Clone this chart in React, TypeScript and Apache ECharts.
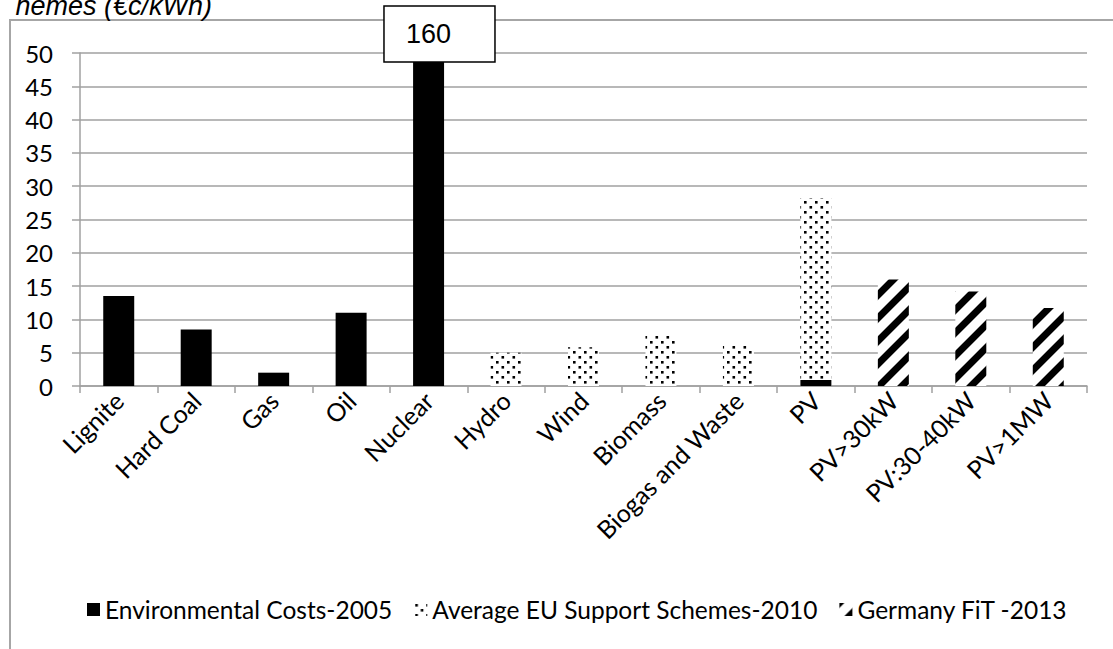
import React, { useEffect, useRef } from "react";
import * as echarts from "echarts";

const categories = [
  "Lignite",
  "Hard Coal",
  "Gas",
  "Oil",
  "Nuclear",
  "Hydro",
  "Wind",
  "Biomass",
  "Biogas and Waste",
  "PV",
  "PV>30kW",
  "PV:30-40kW",
  "PV>1MW",
];
const envCosts = [13.5, 8.5, 2, 11, 160, null, null, null, null, 0.9, null, null, null];
const euSupport = [null, null, null, null, null, 5.0, 5.8, 7.8, 6.3, 28.2, null, null, null];
const germanyFit = [null, null, null, null, null, null, null, null, null, null, 16.0, 14.2, 11.7];
const seriesNames = [
  "Environmental Costs-2005",
  "Average EU Support Schemes-2010",
  "Germany FiT -2013",
];
const yMin = 0;
const yMax = 50;
const yInterval = 5;
const titleText = "hemes (€c/kWh)";
const clippedIndex = 4;

const FONT = "Lato";

function dotPattern() {
  const s = 4;
  const w = 11;
  const h = 10;
  const c = document.createElement("canvas");
  c.width = w * s;
  c.height = h * s;
  const g = c.getContext("2d")!;
  g.fillStyle = "#fff";
  g.fillRect(0, 0, c.width, c.height);
  g.fillStyle = "#000";
  g.fillRect(1 * s, 1 * s, 2.6 * s, 2.6 * s);
  g.fillRect(6.5 * s, 6 * s, 2.6 * s, 2.6 * s);
  return { image: c.toDataURL(), repeat: "repeat", imageWidth: w, imageHeight: h };
}

function hatchPattern() {
  const s = 4;
  const T = 23;
  const c = document.createElement("canvas");
  c.width = T * s;
  c.height = T * s;
  const g = c.getContext("2d")!;
  g.fillStyle = "#fff";
  g.fillRect(0, 0, c.width, c.height);
  g.strokeStyle = "#000";
  g.lineWidth = 7 * s;
  for (let k = 0; k <= 2; k++) {
    g.beginPath();
    g.moveTo((k * T + T) * s, -T * s);
    g.lineTo((k * T - 2 * T) * s, 2 * T * s);
    g.stroke();
  }
  return { image: c.toDataURL(), repeat: "repeat", imageWidth: T, imageHeight: T };
}

export default function App() {
  const ref = useRef<HTMLDivElement>(null);
  useEffect(() => {
    if (!ref.current) return;
    const chart = echarts.init(ref.current, null, { renderer: "svg" });
    const gridColor = "#a0a0a0";
    const option: any = {
      animation: false,
      backgroundColor: "#fff",
      grid: { left: 80, right: 26, top: 53, bottom: 263, containLabel: false },
      legend: {
        data: seriesNames,
        left: 82,
        top: 592,
        icon: "rect",
        itemWidth: 13,
        itemHeight: 13,
        itemGap: 22,
        textStyle: { fontFamily: FONT, fontSize: 24.5, color: "#000" },
      },
      xAxis: {
        type: "category",
        data: categories,
        boundaryGap: true,
        axisLine: { show: true, lineStyle: { color: gridColor, width: 1.5 } },
        axisTick: { show: true, length: 7, lineStyle: { color: gridColor, width: 1.5 } },
        axisLabel: {
          interval: 0,
          rotate: 45,
          margin: 10,
          fontFamily: FONT,
          fontSize: 25,
          color: "#000",
        },
      },
      yAxis: {
        type: "value",
        min: yMin,
        max: yMax,
        interval: yInterval,
        axisLine: { show: true, lineStyle: { color: gridColor, width: 1.5 } },
        axisTick: { show: true, length: 8, lineStyle: { color: gridColor, width: 1.5 } },
        splitLine: { show: true, lineStyle: { color: gridColor, width: 1.5 } },
        axisLabel: { margin: 27, fontFamily: FONT, fontSize: 24, color: "#000" },
      },
      series: [
        {
          name: seriesNames[0],
          type: "bar",
          data: envCosts,
          barWidth: "40%",
          barGap: "-100%",
          z: 5,
          clip: true,
          itemStyle: { color: "#000" },
        },
        {
          name: seriesNames[1],
          type: "bar",
          data: euSupport,
          barWidth: "40%",
          barGap: "-100%",
          z: 3,
          itemStyle: { color: dotPattern() },
        },
        {
          name: seriesNames[2],
          type: "bar",
          data: germanyFit,
          barWidth: "40%",
          barGap: "-100%",
          z: 3,
          itemStyle: { color: hatchPattern() },
        },
      ],
    };
    chart.setOption(option);
    const p = chart.convertToPixel({ gridIndex: 0 }, [categories[clippedIndex], yMax]) as number[];
    chart.setOption({
      graphic: [
        {
          type: "rect",
          id: "frame",
          silent: true,
          shape: { x: 10, y: 20, width: 1300, height: 900 },
          style: { fill: "none", stroke: "#a6a6a6", lineWidth: 2 },
          z: -1,
        },
        {
          type: "text",
          id: "title",
          x: 212,
          y: 6,
          style: {
            text: titleText,
            textAlign: "right",
            textVerticalAlign: "middle",
            font: "italic 27px 'Liberation Sans'",
            fill: "#000",
          },
        },
        {
          type: "rect",
          id: "box",
          shape: { x: p[0] - 44.6, y: p[1] - 47, width: 111, height: 56 },
          style: { fill: "#fff", stroke: "#000", lineWidth: 1.5 },
          z: 100,
        },
        {
          type: "text",
          id: "boxText",
          x: p[0],
          y: p[1] - 19,
          z: 101,
          style: {
            text: String(envCosts[clippedIndex]),
            textAlign: "center",
            textVerticalAlign: "middle",
            font: "27px 'Liberation Sans'",
            fill: "#000",
          },
        },
      ],
    });
    return () => chart.dispose();
  }, []);
  return (
    <div
      ref={ref}
      style={{ position: "fixed", left: 0, top: 0, width: 1113, height: 649 }}
    />
  );
}
